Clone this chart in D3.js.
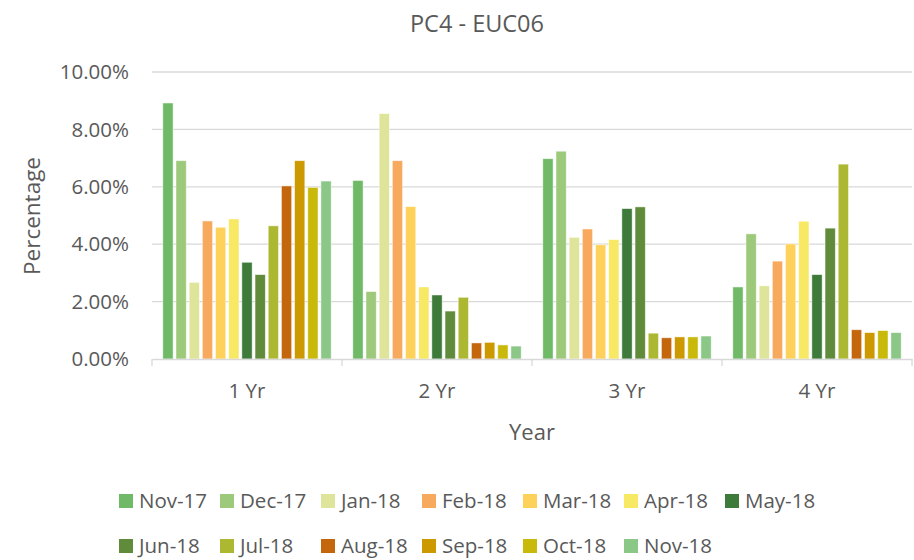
<!DOCTYPE html>
<html>
<head>
<meta charset="utf-8">
<script src="https://cdn.jsdelivr.net/npm/d3@7"></script>
<style>
    body { margin: 0; background: #fff; }
    text { font-family: "Open Sans", "Liberation Sans", sans-serif; fill: #595959; }
</style>
</head>
<body>
<div id="chart"></div>
<script>
// categories and series
const years = ["1 Yr", "2 Yr", "3 Yr", "4 Yr"];
const months = ["Nov-17", "Dec-17", "Jan-18", "Feb-18", "Mar-18", "Apr-18", "May-18",
                "Jun-18", "Jul-18", "Aug-18", "Sep-18", "Oct-18", "Nov-18"];
const colors = ["#70ba67", "#9dc97a", "#dee59b", "#f7a95e", "#fed25a", "#f7e963", "#3e7a3a",
                "#5f8b3a", "#adb832", "#c4670c", "#cc9a00", "#c8b90a", "#8bc787"];

// values in percent, one array per year
const yr1 = [8.92, 6.91, 2.67, 4.81, 4.59, 4.88, 3.37, 2.94, 4.64, 6.03, 6.91, 5.98, 6.20];
const yr2 = [6.22, 2.35, 8.55, 6.91, 5.31, 2.51, 2.23, 1.67, 2.15, 0.56, 0.58, 0.49, 0.45];
const yr3 = [6.98, 7.24, 4.24, 4.53, 3.98, 4.16, 5.24, 5.30, 0.90, 0.74, 0.77, 0.77, 0.80];
const yr4 = [2.51, 4.36, 2.55, 3.41, 4.01, 4.80, 2.94, 4.56, 6.79, 1.02, 0.92, 0.99, 0.92];
const yTicks = [0, 2, 4, 6, 8, 10];

const values = [yr1, yr2, yr3, yr4];

const width = 914;
const height = 560;

const svg = d3.select("#chart")
    .append("svg")
    .attr("width", width)
    .attr("height", height);

const x0 = d3.scaleBand()
    .domain(years)
    .range([152, 912]);

const x1 = d3.scaleBand()
    .domain(months)
    .range([0, x0.bandwidth()])
    .paddingInner(0.22)
    .paddingOuter(0.82);

const y = d3.scaleLinear()
    .domain([0, 10])
    .range([359, 72]);

// gridlines
svg.append("g")
    .selectAll("line")
    .data(yTicks.slice(1))
    .enter()
    .append("line")
    .attr("x1", 152)
    .attr("x2", 912)
    .attr("y1", d => y(d))
    .attr("y2", d => y(d))
    .attr("stroke", "#d9d9d9")
    .attr("stroke-width", 1.3);

// y tick labels
svg.append("g")
    .selectAll("text")
    .data(yTicks)
    .enter()
    .append("text")
    .attr("x", 129)
    .attr("y", d => y(d))
    .attr("dy", "0.35em")
    .attr("text-anchor", "end")
    .style("font-size", "20.5px")
    .text(d => d.toFixed(2) + "%");

// bars
const groups = svg.append("g")
    .selectAll("g")
    .data(years)
    .enter()
    .append("g")
    .attr("transform", d => `translate(${x0(d)},0)`);

groups.selectAll("rect")
    .data((d, i) => values[i].map((v, j) => ({ month: months[j], value: v, color: colors[j] })))
    .enter()
    .append("rect")
    .attr("x", d => x1(d.month))
    .attr("y", d => y(d.value))
    .attr("width", x1.bandwidth())
    .attr("height", d => y(0) - y(d.value))
    .attr("fill", d => d.color)
    .attr("stroke", "#ffffff")
    .attr("stroke-opacity", 0.6)
    .attr("stroke-width", 0.8);

// x axis
const xAxis = svg.append("g")
    .attr("transform", "translate(0,359)")
    .call(d3.axisBottom(x0).tickSize(0).tickPadding(24));

xAxis.select(".domain")
    .attr("stroke", "#d9d9d9")
    .attr("stroke-width", 1.3);

xAxis.selectAll("text")
    .style("font-size", "20.5px")
    .attr("fill", "#595959");

// boundary ticks between categories
svg.append("g")
    .selectAll("line")
    .data(years.concat(["end"]))
    .enter()
    .append("line")
    .attr("x1", (d, i) => 152 + i * x0.bandwidth())
    .attr("x2", (d, i) => 152 + i * x0.bandwidth())
    .attr("y1", 359)
    .attr("y2", 366)
    .attr("stroke", "#d9d9d9")
    .attr("stroke-width", 1.3);

// title
svg.append("text")
    .attr("x", 477)
    .attr("y", 32)
    .attr("text-anchor", "middle")
    .style("font-size", "23.5px")
    .text("PC4 - EUC06");

// axis titles
svg.append("text")
    .attr("x", 532)
    .attr("y", 440)
    .attr("text-anchor", "middle")
    .style("font-size", "22px")
    .text("Year");

svg.append("text")
    .attr("transform", "translate(40,216) rotate(-90)")
    .attr("text-anchor", "middle")
    .style("font-size", "22.5px")
    .text("Percentage");

// legend, two rows
const legend = svg.append("g")
    .selectAll("g")
    .data(months)
    .enter()
    .append("g")
    .attr("transform", (d, i) => {
        const row = i < 7 ? 0 : 1;
        const col = i < 7 ? i : i - 7;
        return `translate(${119 + col * 101},${row === 0 ? 494 : 539})`;
    });

legend.append("rect")
    .attr("width", 14)
    .attr("height", 14)
    .attr("fill", (d, i) => colors[i]);

legend.append("text")
    .attr("x", 20)
    .attr("y", 7)
    .attr("dy", "0.35em")
    .style("font-size", "20.5px")
    .text(d => d);
</script>
</body>
</html>
